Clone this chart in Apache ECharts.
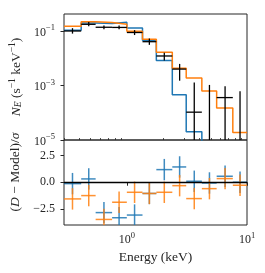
<!DOCTYPE html>
<html><head><meta charset="utf-8">
<script src="https://cdn.jsdelivr.net/npm/echarts@6/dist/echarts.min.js"></script>
<style>html,body{margin:0;padding:0;background:#fff}#c{width:265px;height:273px}</style>
</head><body><div id="c"></div>
<script>
// ---- data ----
const binLo = [0.30, 0.417, 0.550, 0.754, 1.00, 1.35, 1.76, 2.39, 3.12, 4.21, 5.59, 7.62];
const binHi = [0.417, 0.550, 0.754, 1.00, 1.35, 1.76, 2.39, 3.12, 4.21, 5.59, 7.62, 10.0];
const binCenter = [0.353, 0.482, 0.645, 0.862, 1.16, 1.54, 2.05, 2.75, 3.64, 4.87, 6.57, 8.75];
const dataRate = [0.100, 0.176, 0.137, 0.135, 0.088, 0.0405, 0.0121, 0.0040, 1.05e-4, 3e-6, 3.6e-4, 3e-6];
const dataRateLo = [0.080, 0.149, 0.115, 0.115, 0.071, 0.031, 0.0082, 0.0015, 0, 0, 0, 0];
const dataRateHi = [0.127, 0.212, 0.158, 0.158, 0.108, 0.053, 0.016, 0.0062, 1.28e-3, 1.05e-3, 9.3e-4, 6.1e-4];
const modelBlue = [0.106, 0.196, 0.19, 0.21, 0.13, 0.046, 0.0082, 4.6e-4, 2.0e-5, 1e-6, 1e-7, 1e-8];
const modelOrange = [0.149, 0.22, 0.205, 0.176, 0.097, 0.05, 0.0166, 0.0043, 0.0019, 6.3e-4, 1.48e-4, 1.9e-5];
const residBlue = [-0.13, 0.31, -2.84, -3.32, -3.07, -1.05, 1.18, 1.43, 0.09, -0.07, 0.56, 0.0];
const residOrange = [-1.56, -1.25, -3.48, -1.87, -0.94, -1.05, -0.94, -0.32, -1.53, -0.6, 0.34, -0.28];
const residErr = [1, 1, 1, 1, 1, 1, 1, 1, 1, 1, 1, 1];
const yTicksTop = [1e-5, 1e-3, 1e-1];
const yTicksBottom = [-2.5, 0, 2.5];
const xTicksMajor = [1, 10];
const xTicksMinor = [0.3, 0.4, 0.5, 0.6, 0.7, 0.8, 0.9, 2, 3, 4, 5, 6, 7, 8, 9];

// ---- styling ----
const FONT = 'Liberation Serif';
const INK = '#262626';
const BLUE = '#1f77b4', ORANGE = '#ff7f0e';
const supRich = {
  b: {fontFamily: FONT, fontSize: 12, lineHeight: 15, verticalAlign: 'bottom', color: INK},
  s: {fontFamily: FONT, fontSize: 8.5, lineHeight: 9, verticalAlign: 'top', color: INK}
};
function expFmt(v) {
  const e = Math.round(Math.log10(v));
  return '{b|10}{s|' + (e < 0 ? '\u2212' : '') + Math.abs(e) + '}';
}

function stepData(vals) {
  const d = binLo.map((e, i) => [e, vals[i]]);
  d.push([binHi[binHi.length - 1], vals[vals.length - 1]]);
  return d;
}

function crossRenderer(color, floor, width, opacity) {
  return function (params, api) {
    const cs = params.coordSys;
    const top = cs.y, bot = cs.y + cs.height;
    const f = v => Math.max(v, floor);
    const xl = api.value(0), xc = api.value(1), xh = api.value(2);
    const y = api.value(3), yl = api.value(4), yh = api.value(5);
    const pc = api.coord([xc, f(y)]);
    const pl = api.coord([xl, f(y)]);
    const ph = api.coord([xh, f(y)]);
    const clamp = v => Math.min(Math.max(v, top), bot);
    const vy1 = clamp(api.coord([xc, f(yh)])[1]);
    const vy2 = clamp(api.coord([xc, f(yl)])[1]);
    const children = [];
    const style = {stroke: color, lineWidth: width, opacity: opacity};
    if (pc[1] >= top && pc[1] <= bot) {
      children.push({type: 'line', shape: {x1: pl[0], y1: pc[1], x2: ph[0], y2: pc[1]}, style: style});
    }
    if (vy2 - vy1 > 0.1) {
      children.push({type: 'line', shape: {x1: pc[0], y1: vy1, x2: pc[0], y2: vy2}, style: style});
    }
    return {type: 'group', children: children};
  };
}

const topData = binCenter.map((c, i) => [binLo[i], c, binHi[i], dataRate[i], dataRateLo[i], dataRateHi[i]]);
const resBlueData = binCenter.map((c, i) => [binLo[i], c, binHi[i], residBlue[i], residBlue[i] - residErr[i], residBlue[i] + residErr[i]]);
const resOrangeData = binCenter.map((c, i) => [binLo[i], c, binHi[i], residOrange[i], residOrange[i] - residErr[i], residOrange[i] + residErr[i]]);

const chart = echarts.init(document.getElementById('c'), null, {renderer: 'canvas'});
chart.setOption({
  animation: false,
  backgroundColor: '#fff',
  grid: [
    {left: 64, top: 14, width: 183, height: 126, show: true, borderColor: INK, borderWidth: 1, backgroundColor: 'transparent'},
    {left: 64, top: 140, width: 183, height: 85, show: true, borderColor: INK, borderWidth: 1, backgroundColor: 'transparent'}
  ],
  xAxis: [
    {gridIndex: 0, type: 'log', logBase: 10, min: 0.3, max: 10, show: false},
    {gridIndex: 1, type: 'log', logBase: 10, min: 0.3, max: 10,
      axisLine: {show: false}, splitLine: {show: false},
      axisTick: {show: true, length: 3.5, lineStyle: {color: INK, width: 1}, customValues: xTicksMajor},
      axisLabel: {show: true, margin: 6, customValues: xTicksMajor, formatter: expFmt, rich: supRich}},
    {gridIndex: 1, type: 'log', logBase: 10, min: 0.3, max: 10,
      axisLine: {show: false}, splitLine: {show: false},
      axisTick: {show: true, length: 2, lineStyle: {color: INK, width: 0.8}, customValues: xTicksMinor},
      axisLabel: {show: false}}
  ],
  yAxis: [
    {gridIndex: 0, type: 'log', logBase: 10, min: 1e-5, max: 0.42,
      axisLine: {show: false}, splitLine: {show: false},
      axisTick: {show: true, length: 3.5, lineStyle: {color: INK, width: 1}, customValues: yTicksTop},
      axisLabel: {show: true, margin: 9, customValues: yTicksTop, formatter: expFmt, rich: supRich}},
    {gridIndex: 1, type: 'value', min: -4.0, max: 3.95,
      axisLine: {show: false}, splitLine: {show: false},
      axisTick: {show: true, length: 3.5, lineStyle: {color: INK, width: 1}, customValues: yTicksBottom},
      axisLabel: {show: true, margin: 9, customValues: yTicksBottom, fontFamily: FONT, fontSize: 12, color: INK,
        formatter: v => (v < 0 ? '\u2212' : '') + Math.abs(v).toFixed(1)}}
  ],
  series: [
    {type: 'line', xAxisIndex: 0, yAxisIndex: 0, step: 'end', data: stepData(modelBlue), showSymbol: false,
      lineStyle: {color: BLUE, width: 1.5}, z: 2, clip: true, silent: true},
    {type: 'line', xAxisIndex: 0, yAxisIndex: 0, step: 'end', data: stepData(modelOrange), showSymbol: false,
      lineStyle: {color: ORANGE, width: 1.5}, z: 3, clip: true, silent: true},
    {type: 'custom', xAxisIndex: 0, yAxisIndex: 0, data: topData, encode: {x: 1, y: 3},
      renderItem: crossRenderer('#000', 1e-9, 1.3, 1), z: 4, silent: true},
    {type: 'custom', xAxisIndex: 1, yAxisIndex: 1, data: resBlueData, encode: {x: 1, y: 3},
      renderItem: crossRenderer(BLUE, -100, 1.5, 0.85), z: 2, silent: true},
    {type: 'custom', xAxisIndex: 1, yAxisIndex: 1, data: resOrangeData, encode: {x: 1, y: 3},
      renderItem: crossRenderer(ORANGE, -100, 1.5, 0.85), z: 3, silent: true},
    {type: 'line', xAxisIndex: 1, yAxisIndex: 1, data: [], z: 5, silent: true,
      markLine: {silent: true, symbol: 'none', label: {show: false}, animation: false,
        lineStyle: {color: '#000', width: 1.3, type: 'solid'}, data: [{yAxis: 0}]}}
  ],
  graphic: [
    {type: 'text', x: 15, y: 77, rotation: Math.PI / 2, silent: true,
      style: {text: '{i|N}{sub|E}{r| (s}{sup|\u22121}{r| keV}{sup|\u22121}{r|)}', align: 'center', verticalAlign: 'middle',
        rich: {
          i: {fontFamily: FONT, fontSize: 13.5, fontStyle: 'italic', lineHeight: 16, verticalAlign: 'bottom', fill: INK, color: INK},
          r: {fontFamily: FONT, fontSize: 13.5, lineHeight: 16, verticalAlign: 'bottom', fill: INK, color: INK},
          sub: {fontFamily: FONT, fontSize: 9.5, fontStyle: 'italic', lineHeight: 9, verticalAlign: 'bottom', fill: INK, color: INK},
          sup: {fontFamily: FONT, fontSize: 9.5, lineHeight: 9, verticalAlign: 'top', fill: INK, color: INK}
        }}},
    {type: 'text', x: 15, y: 172, rotation: Math.PI / 2, silent: true,
      style: {text: '{r|(}{i|D}{r| \u2212 Model)/}{i|\u03c3}', align: 'center', verticalAlign: 'middle',
        rich: {
          i: {fontFamily: FONT, fontSize: 13.5, fontStyle: 'italic', fill: INK, color: INK},
          r: {fontFamily: FONT, fontSize: 13.5, fill: INK, color: INK}
        }}},
    {type: 'text', x: 155.5, y: 257, silent: true,
      style: {text: 'Energy (keV)', align: 'center', verticalAlign: 'middle', fontFamily: FONT, fontSize: 13.5, fill: INK}}
  ]
});
</script>
</body></html>
